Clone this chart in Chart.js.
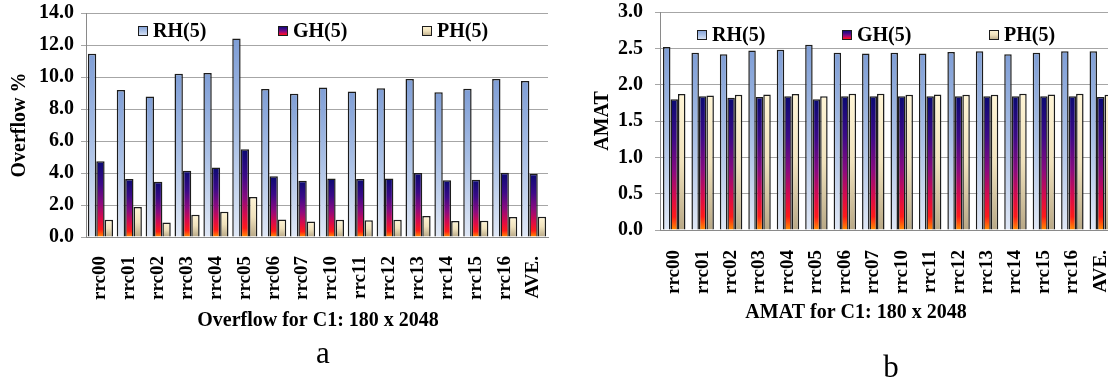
<!DOCTYPE html>
<html>
<head>
<meta charset="utf-8">
<script src="https://cdn.jsdelivr.net/npm/chart.js@4.4.1/dist/chart.umd.min.js"></script>
<style>
  html, body { margin: 0; padding: 0; background: #fff; }
  body { width: 1108px; height: 378px; overflow: hidden; position: relative; }
  canvas { position: absolute; top: 0; }
  #overflow-chart { left: 0; }
  #amat-chart { left: 560px; }
</style>
</head>
<body>
<canvas id="overflow-chart" width="560" height="378"></canvas>
<canvas id="amat-chart" width="570" height="378"></canvas>
<script>
const categories = [`rrc00`, `rrc01`, `rrc02`, `rrc03`, `rrc04`, `rrc05`, `rrc06`, `rrc07`,
  `rrc10`, `rrc11`, `rrc12`, `rrc13`, `rrc14`, `rrc15`, `rrc16`, `AVE.`];
const seriesNames = [`RH(5)`, `GH(5)`, `PH(5)`];

// a: overflow %
const overflowRH = [11.45, 9.18, 8.78, 10.2, 10.25, 12.4, 9.25, 8.96, 9.35, 9.1, 9.29, 9.88, 9.04, 9.27, 9.88, 9.75];
const overflowGH = [4.73, 3.63, 3.46, 4.14, 4.35, 5.48, 3.79, 3.52, 3.66, 3.63, 3.66, 4.0, 3.54, 3.58, 4.02, 3.96];
const overflowPH = [1.08, 1.87, 0.91, 1.39, 1.58, 2.5, 1.1, 0.97, 1.08, 1.04, 1.08, 1.31, 1.0, 1.02, 1.25, 1.27];
const overflowMax = 14;
const overflowStep = 2;

// b: AMAT
const amatRH = [2.52, 2.44, 2.42, 2.47, 2.48, 2.55, 2.44, 2.43, 2.44, 2.43, 2.45, 2.46, 2.42, 2.44, 2.46, 2.46];
const amatGH = [1.80, 1.84, 1.82, 1.83, 1.84, 1.80, 1.84, 1.84, 1.84, 1.84, 1.84, 1.84, 1.84, 1.84, 1.84, 1.83];
const amatPH = [1.87, 1.85, 1.86, 1.865, 1.87, 1.84, 1.875, 1.875, 1.86, 1.865, 1.86, 1.86, 1.875, 1.865, 1.875, 1.86];
const amatMax = 3;
const amatStep = 0.5;

const FONT = `"Liberation Serif", "Times New Roman", serif`;
const GRID = `#a6a6a6`;
const AXIS = `#8a8a8a`;
const BORDER = `#1c1c1c`;

const seriesStops = [
  [[0, `#7f9ed6`], [0.5, `#abc1e6`], [1, `#e0e8f6`]],
  [[0, `#0a0a72`], [0.3, `#3c0a88`], [0.55, `#8a0a80`], [0.75, `#d80a4c`], [0.9, `#ff1a18`], [1, `#ff9000`]],
  [[0, `#fff5d6`], [0.5, `#f0e2bc`], [1, `#b8a886`]]
];

const makeGradient = (ctx, top, bottom, stops) => {
  const g = ctx.createLinearGradient(0, top, 0, bottom);
  stops.forEach(([offset, color]) => g.addColorStop(offset, color));
  return g;
};

/**
 * one gradient per bar, from its top down to the zero line
 * @param {Array} stops
 * @return {Function}
 */
const barFill = (stops) => (context) => {
  const {chart} = context;
  if (context.type !== `data` || !chart.chartArea) {
    return stops[0][1];
  }
  const y = chart.scales.y;
  return makeGradient(chart.ctx, y.getPixelForValue(context.raw), y.getPixelForValue(0), stops);
};

const insideLegend = {
  id: `insideLegend`,
  afterDraw(chart, args, opts) {
    const {ctx} = chart;
    ctx.save();
    ctx.font = `bold 20px ${FONT}`;
    ctx.textBaseline = `middle`;
    ctx.textAlign = `left`;
    seriesNames.forEach((name, i) => {
      const x = opts.x[i];
      const y = opts.y;
      ctx.fillStyle = makeGradient(ctx, y - 5, y + 5, seriesStops[i]);
      ctx.fillRect(x, y - 5, 10, 10);
      ctx.strokeStyle = BORDER;
      ctx.lineWidth = 1;
      ctx.strokeRect(x + 0.5, y - 4.5, 9, 9);
      ctx.fillStyle = `#000`;
      ctx.fillText(name, x + 15, y + 1);
    });
    ctx.restore();
  }
};

const captions = {
  id: `captions`,
  afterDraw(chart, args, opts) {
    const {ctx} = chart;
    ctx.save();
    ctx.fillStyle = `#000`;
    ctx.textAlign = `center`;
    ctx.textBaseline = `alphabetic`;
    ctx.font = `bold 20px ${FONT}`;
    ctx.fillText(opts.title, opts.titleX, opts.titleY);
    ctx.font = `31px ${FONT}`;
    ctx.fillText(opts.letter, opts.letterX, opts.letterY);
    ctx.restore();
  }
};

function createBarChart(id, cfg) {
  const font = {family: FONT, size: 20, weight: `bold`};
  return new Chart(document.getElementById(id), {
    type: `bar`,
    data: {
      labels: categories,
      datasets: cfg.values.map((data, i) => ({
        label: seriesNames[i],
        data,
        backgroundColor: barFill(seriesStops[i]),
        borderColor: BORDER,
        borderWidth: 1.5,
        categoryPercentage: cfg.categoryPercentage,
        barPercentage: 1
      }))
    },
    options: {
      responsive: false,
      animation: false,
      devicePixelRatio: 1,
      layout: {padding: cfg.padding},
      scales: {
        x: {
          grid: {display: false},
          border: {color: AXIS},
          ticks: {font: {...font, size: 19}, color: `#000`, minRotation: 90, maxRotation: 90, padding: cfg.labelPadding, autoSkip: false},
          afterFit: (scale) => {
            scale.height = cfg.xHeight;
            scale.paddingLeft = 0;
            scale.paddingRight = 0;
          }
        },
        y: {
          min: 0,
          max: cfg.max,
          ticks: {stepSize: cfg.step, font, color: `#000`, padding: cfg.tickPadding, callback: (v) => v.toFixed(1)},
          grid: {color: GRID, tickColor: GRID, tickLength: 5},
          border: {color: AXIS},
          title: {display: true, text: cfg.yTitle, font, color: `#000`, padding: {top: cfg.yTitlePadding, bottom: 0}},
          afterFit: (scale) => {
            // plot edges are set by layout.padding, not by the tick label height
            scale.width = cfg.yWidth;
            scale.paddingTop = 0;
            scale.paddingBottom = 0;
          }
        }
      },
      plugins: {
        legend: {display: false},
        tooltip: {enabled: false},
        insideLegend: cfg.legend,
        captions: cfg.captions
      }
    },
    plugins: [insideLegend, captions]
  });
}

createBarChart(`overflow-chart`, {
  values: [overflowRH, overflowGH, overflowPH],
  max: overflowMax,
  step: overflowStep,
  yTitle: `Overflow %`,
  yTitlePadding: 8,
  yWidth: 86,
  tickPadding: 7,
  labelPadding: 11,
  xHeight: 141,
  padding: {left: 0, top: 13, right: 12, bottom: 0},
  categoryPercentage: 0.87,
  legend: {x: [138, 278, 422], y: 31},
  captions: {title: `Overflow for C1: 180 x 2048`, titleX: 318, titleY: 326, letter: `a`, letterX: 323, letterY: 363}
});

createBarChart(`amat-chart`, {
  values: [amatRH, amatGH, amatPH],
  max: amatMax,
  step: amatStep,
  yTitle: `AMAT`,
  yTitlePadding: 31,
  yWidth: 100,
  tickPadding: 12,
  labelPadding: 12,
  xHeight: 148,
  padding: {left: 0, top: 12, right: 15, bottom: 0},
  categoryPercentage: 0.79,
  legend: {x: [137, 282, 429], y: 35},
  captions: {title: `AMAT for C1: 180 x 2048`, titleX: 296, titleY: 318, letter: `b`, letterX: 331, letterY: 377}
});
</script>
</body>
</html>
